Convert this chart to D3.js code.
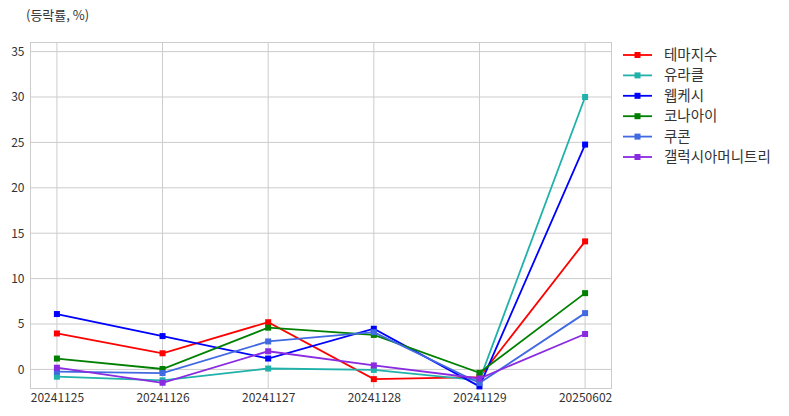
<!DOCTYPE html>
<html><head><meta charset="utf-8">
<script src="https://cdn.jsdelivr.net/npm/d3@7"></script>
<style>body{margin:0;background:#fff;} text{font-family:"Noto Sans CJK KR","Noto Sans",sans-serif;}</style>
</head><body>
<svg id="c" width="789" height="416"></svg>
<script>
const categories = ["20241125","20241126","20241127","20241128","20241129","20250602"];
const seriesNames = ["테마지수","유라클","웹케시","코나아이","쿠콘","갤럭시아머니트리"];
const s_theme   = [3.96, 1.78, 5.2, -1.07, -0.85, 14.1];
const s_uracle  = [-0.8, -1.2, 0.1, -0.05, -1.2, 30.0];
const s_webcash = [6.1, 3.67, 1.2, 4.48, -1.87, 24.76];
const s_konai   = [1.2, 0.05, 4.6, 3.8, -0.37, 8.4];
const s_coocon  = [-0.25, -0.4, 3.08, 4.1, -1.5, 6.2];
const s_galaxia = [0.19, -1.47, 2.0, 0.44, -1.0, 3.9];
const yTicks = [0,5,10,15,20,25,30,35];
const colors = ["#ff0000","#20b2aa","#0000ff","#008000","#4169e1","#8a2be2"];
const allSeries = [s_theme, s_uracle, s_webcash, s_konai, s_coocon, s_galaxia];

const svg = d3.select("#c");
const L=30.5, R=611.5, T=42.5, B=388.5;
const xs = d3.scaleLinear().domain([-0.25, categories.length - 0.75]).range([L,R]);
const y = d3.scaleLinear().domain([-2.1, 36]).range([B,T]);

// grid
const g = svg.append("g");
g.selectAll(".gy").data(yTicks).enter().append("line")
  .attr("x1",L).attr("x2",R).attr("y1",d=>y(d)).attr("y2",d=>y(d))
  .attr("stroke","#cccccc").attr("stroke-width",1);
g.selectAll(".gx").data(categories).enter().append("line")
  .attr("x1",(d,i)=>xs(i)).attr("x2",(d,i)=>xs(i)).attr("y1",T).attr("y2",B)
  .attr("stroke","#cccccc").attr("stroke-width",1);
g.append("rect").attr("x",L).attr("y",T).attr("width",R-L).attr("height",B-T)
  .attr("fill","none").attr("stroke","#cccccc").attr("stroke-width",1);

// axes labels
const yAxis = d3.axisLeft(y).tickValues(yTicks).tickSize(0).tickPadding(6);
const ya = svg.append("g").attr("transform",`translate(${L},0)`).call(yAxis);
ya.select(".domain").remove();
ya.selectAll("text").attr("font-size",12).attr("fill","#333");

const xAxis = d3.axisBottom(xs).tickValues(d3.range(categories.length)).tickFormat(i=>categories[i]).tickSize(0).tickPadding(5);
const xa = svg.append("g").attr("transform",`translate(0,${B})`).call(xAxis);
xa.select(".domain").remove();
xa.selectAll("text").attr("font-size",12).attr("fill","#333");

// lines
const line = d3.line().x((d,i)=>xs(i)).y(d=>y(d));
allSeries.forEach((s,k)=>{
  svg.append("path").datum(s).attr("d",line).attr("fill","none")
    .attr("stroke",colors[k]).attr("stroke-width",1.8);
  svg.selectAll(null).data(s).enter().append("rect")
    .attr("x",(d,i)=>xs(i)-3).attr("y",d=>y(d)-3).attr("width",6).attr("height",6)
    .attr("fill",colors[k]);
});

// title
svg.append("text").attr("x",26).attr("y",20).attr("font-size",13).attr("fill","#333").text("(등락률, %)");

// legend
const lg = svg.append("g");
seriesNames.forEach((n,k)=>{
  const yy = 55 + k*20.4;
  lg.append("line").attr("x1",623).attr("x2",652).attr("y1",yy).attr("y2",yy)
    .attr("stroke",colors[k]).attr("stroke-width",1.8);
  lg.append("rect").attr("x",634.5).attr("y",yy-3).attr("width",6).attr("height",6).attr("fill",colors[k]);
  lg.append("text").attr("x",664).attr("y",yy).attr("dy","0.35em").attr("font-size",14.5).attr("fill","#333").text(n);
});
</script>
</body></html>
